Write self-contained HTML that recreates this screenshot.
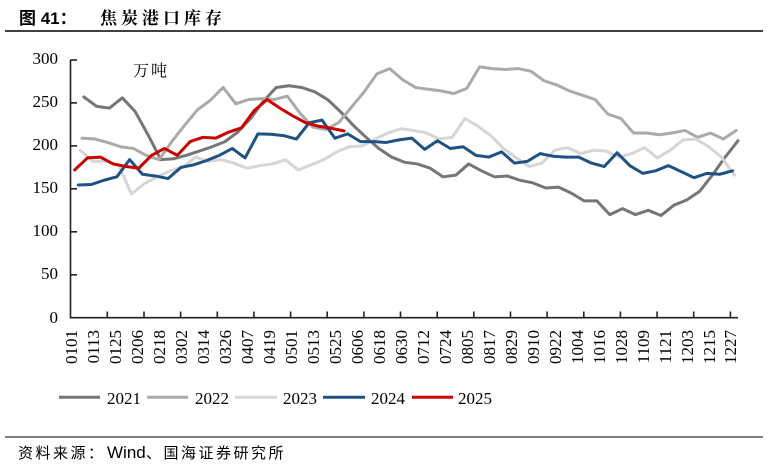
<!DOCTYPE html>
<html>
<head>
<meta charset="utf-8">
<style>
  html, body { margin: 0; padding: 0; background: #fff; }
  body { width: 769px; height: 468px; overflow: hidden; }
  svg { display: block; }
  .lbl { font-family: "Liberation Serif", serif; font-size: 17px; fill: #000; }
</style>
</head>
<body>
<svg width="769" height="468" viewBox="0 0 769 468" xmlns="http://www.w3.org/2000/svg">
  <rect width="769" height="468" fill="#fff"/>

  <!-- Title -->
  <text x="19" y="24" font-family="'Liberation Sans','Noto Sans CJK SC',sans-serif" font-size="17" font-weight="bold" fill="#000">图 41：</text>
  <text x="100" y="24" font-family="'Liberation Serif','Noto Serif CJK SC',serif" font-size="17" font-weight="bold" letter-spacing="4" fill="#000">焦炭港口库存</text>
  <line x1="5" y1="31" x2="763" y2="31" stroke="#000" stroke-width="1.5"/>

  <!-- Unit -->
  <text x="133" y="76" font-family="'Liberation Serif','Noto Serif CJK SC',serif" font-size="16" letter-spacing="2" fill="#000">万吨</text>

  <!-- Y axis labels -->
  <g class="lbl" text-anchor="end">
    <text x="58" y="64">300</text>
    <text x="58" y="107">250</text>
    <text x="58" y="150">200</text>
    <text x="58" y="193">150</text>
    <text x="58" y="236">100</text>
    <text x="58" y="279">50</text>
    <text x="58" y="323">0</text>
  </g>

  <!-- Axes -->
  <g stroke="#222" stroke-width="1.6" fill="none">
    <line x1="70.5" y1="60" x2="70.5" y2="318.5"/>
    <line x1="70" y1="317.7" x2="738" y2="317.7"/>
    <line x1="70.5" y1="60" x2="77" y2="60"/>
    <line x1="70.5" y1="102.9" x2="77" y2="102.9"/>
    <line x1="70.5" y1="145.9" x2="77" y2="145.9"/>
    <line x1="70.5" y1="188.8" x2="77" y2="188.8"/>
    <line x1="70.5" y1="231.8" x2="77" y2="231.8"/>
    <line x1="70.5" y1="274.8" x2="77" y2="274.8"/>
    <line x1="107.3" y1="317.7" x2="107.3" y2="311.5"/>
    <line x1="144" y1="317.7" x2="144" y2="311.5"/>
    <line x1="180.6" y1="317.7" x2="180.6" y2="311.5"/>
    <line x1="217.3" y1="317.7" x2="217.3" y2="311.5"/>
    <line x1="253.9" y1="317.7" x2="253.9" y2="311.5"/>
    <line x1="290.6" y1="317.7" x2="290.6" y2="311.5"/>
    <line x1="327.2" y1="317.7" x2="327.2" y2="311.5"/>
    <line x1="363.9" y1="317.7" x2="363.9" y2="311.5"/>
    <line x1="400.5" y1="317.7" x2="400.5" y2="311.5"/>
    <line x1="437.2" y1="317.7" x2="437.2" y2="311.5"/>
    <line x1="473.8" y1="317.7" x2="473.8" y2="311.5"/>
    <line x1="510.5" y1="317.7" x2="510.5" y2="311.5"/>
    <line x1="547.1" y1="317.7" x2="547.1" y2="311.5"/>
    <line x1="583.8" y1="317.7" x2="583.8" y2="311.5"/>
    <line x1="620.4" y1="317.7" x2="620.4" y2="311.5"/>
    <line x1="657.1" y1="317.7" x2="657.1" y2="311.5"/>
    <line x1="693.7" y1="317.7" x2="693.7" y2="311.5"/>
    <line x1="730.4" y1="317.7" x2="730.4" y2="311.5"/>
  </g>

  <!-- X axis labels (rotated) -->
  <g class="lbl" text-anchor="end">
    <text transform="translate(77,330) rotate(-90)">0101</text>
    <text transform="translate(99,330) rotate(-90)">0113</text>
    <text transform="translate(121,330) rotate(-90)">0125</text>
    <text transform="translate(143,330) rotate(-90)">0206</text>
    <text transform="translate(165,330) rotate(-90)">0218</text>
    <text transform="translate(187,330) rotate(-90)">0302</text>
    <text transform="translate(209,330) rotate(-90)">0314</text>
    <text transform="translate(231,330) rotate(-90)">0326</text>
    <text transform="translate(253,330) rotate(-90)">0407</text>
    <text transform="translate(275,330) rotate(-90)">0419</text>
    <text transform="translate(297,330) rotate(-90)">0501</text>
    <text transform="translate(319,330) rotate(-90)">0513</text>
    <text transform="translate(341,330) rotate(-90)">0525</text>
    <text transform="translate(363,330) rotate(-90)">0606</text>
    <text transform="translate(385,330) rotate(-90)">0618</text>
    <text transform="translate(407,330) rotate(-90)">0630</text>
    <text transform="translate(429,330) rotate(-90)">0712</text>
    <text transform="translate(451,330) rotate(-90)">0724</text>
    <text transform="translate(473,330) rotate(-90)">0805</text>
    <text transform="translate(495,330) rotate(-90)">0817</text>
    <text transform="translate(517,330) rotate(-90)">0829</text>
    <text transform="translate(539,330) rotate(-90)">0910</text>
    <text transform="translate(561,330) rotate(-90)">0922</text>
    <text transform="translate(583,330) rotate(-90)">1004</text>
    <text transform="translate(605,330) rotate(-90)">1016</text>
    <text transform="translate(627,330) rotate(-90)">1028</text>
    <text transform="translate(649,330) rotate(-90)">1109</text>
    <text transform="translate(671,330) rotate(-90)">1121</text>
    <text transform="translate(693,330) rotate(-90)">1203</text>
    <text transform="translate(715,330) rotate(-90)">1215</text>
    <text transform="translate(736,330) rotate(-90)">1227</text>
  </g>

  <!-- Series -->
  <g transform="translate(71,317.7) scale(1.8325,-0.859)" fill="none" stroke-width="3" stroke-linejoin="round" stroke-linecap="round">
    <polyline vector-effect="non-scaling-stroke" stroke="#767676" points="7,257 14,246 21,244 28,256 35,240 42,213 49,184 56,185 63,189 70,194 77,199 84,205 91,216 98,232 105,252 112,268 119,270 126,268 133,263 140,254 147,240 154,224 161,210 168,197 175,187 182,181 189,179 196,174 203,164 210,166 217,179 224,171 231,164 238,165 245,160 252,157 259,151 266,152 273,145 280,136 287,136 294,120 301,127 308,120 315,125 322,119 329,131 336,137 343,147 350,166 357,187 364,206"/>
    <polyline vector-effect="non-scaling-stroke" stroke="#aaaaaa" points="6,209 13,208 20,204 27,199 34,197 41,189 48,184 55,205 62,224 69,242 76,253 83,268 90,249 97,254 104,255 111,254 118,258 125,238 132,222 139,219 146,227 153,245 160,263 167,284 174,290 181,277 188,268 195,266 202,264 209,261 216,267 223,292 230,290 237,289 244,290 251,287 258,276 265,271 272,264 279,259 286,254 293,237 300,232 307,215 314,215 321,213 328,215 335,218 342,210 349,215 356,208 363,218"/>
    <polyline vector-effect="non-scaling-stroke" stroke="#d6d6d6" points="5,195 12,182 19,182 26,178 33,144 40,156 47,164 54,171 61,175 68,187 75,182 82,184 89,180 96,174 103,177 110,179 117,184 124,172 131,178 138,184 145,193 152,199 159,200 166,208 173,215 180,220 187,218 194,215 201,208 208,210 215,232 222,223 229,212 236,197 243,186 250,176 257,180 264,195 271,198 278,191 285,195 292,194 299,187 306,191 313,198 320,186 327,195 334,207 341,208 348,199 355,187 362,166"/>
    <polyline vector-effect="non-scaling-stroke" stroke="#1f5282" points="4,154.5 11,155 18,160 25,164 32,184 39,167 46,165 53,162 60,175 67,178 74,183 81,189 88,197 95,186 102,214 109,213.5 116,212 123,208 130,227 137,230 144,209 151,214 158,205 165,205 172,204 179,207 186,209 193,196 200,206 207,197 214,199 221,189 228,187 235,193 242,180 249,182 256,191 263,188 270,187 277,187 284,180 291,176 298,192 305,177 312,168 319,171 326,177 333,170 340,163 347,168 354,167 361,171"/>
    <polyline vector-effect="non-scaling-stroke" stroke="#cc0000" points="2,172 9,186 16,187 23,179 30,176 37,174 44,189 51,197 58,189 65,205 72,210 79,209 86,216 93,221 100,241 107,254 114,244 121,235 128,227 135,223 142,220.5 149,217.5"/>
  </g>

  <!-- Legend -->
  <g stroke-width="3">
    <line x1="59" y1="397.3" x2="100" y2="397.3" stroke="#767676"/>
    <line x1="147" y1="397.3" x2="188" y2="397.3" stroke="#aaaaaa"/>
    <line x1="235" y1="397.3" x2="277" y2="397.3" stroke="#d6d6d6"/>
    <line x1="323" y1="397.3" x2="365" y2="397.3" stroke="#1f5282"/>
    <line x1="412" y1="397.3" x2="453" y2="397.3" stroke="#cc0000"/>
  </g>
  <g class="lbl">
    <text x="107" y="404">2021</text>
    <text x="195" y="404">2022</text>
    <text x="283" y="404">2023</text>
    <text x="371" y="404">2024</text>
    <text x="458" y="404">2025</text>
  </g>

  <!-- Footer -->
  <line x1="5" y1="437" x2="763" y2="437" stroke="#333" stroke-width="1.2"/>
  <g font-family="'Liberation Sans','Noto Sans CJK SC',sans-serif" font-size="15" fill="#000">
    <text x="18" y="458" letter-spacing="2.5">资料来源：</text>
    <text x="107" y="458" font-size="17">Wind</text>
    <text x="146" y="458" letter-spacing="2.5">、国海证券研究所</text>
  </g>
</svg>
</body>
</html>
